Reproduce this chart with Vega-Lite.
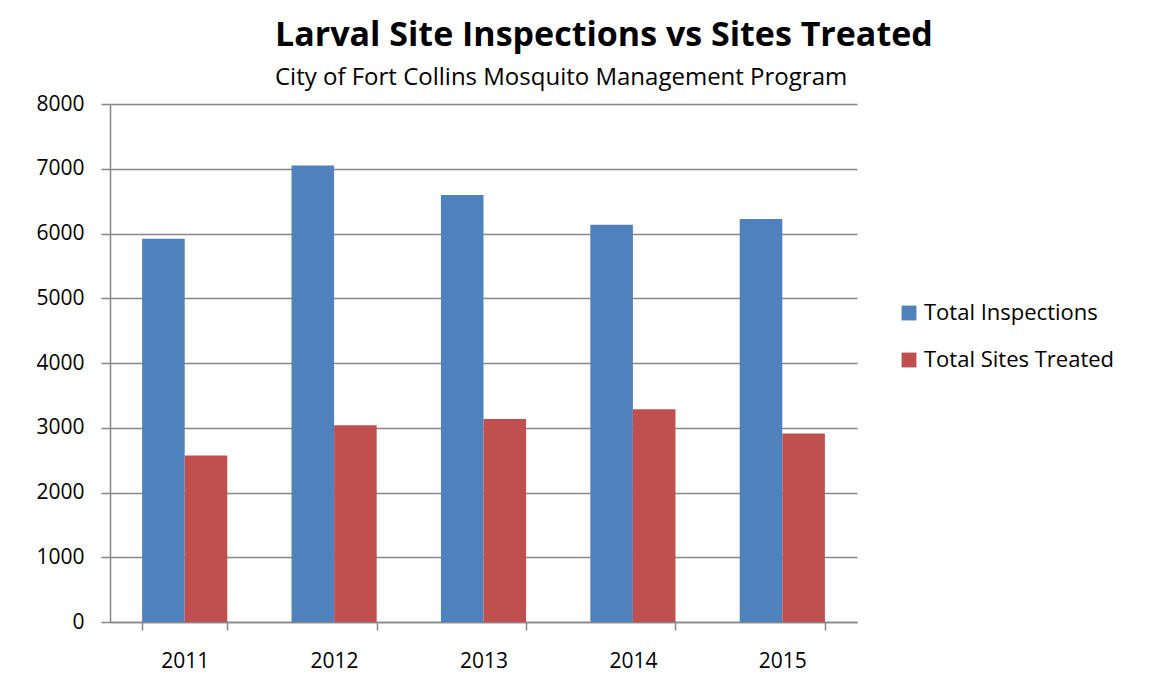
{
  "$schema": "https://vega.github.io/schema/vega-lite/v6.json",
  "width": 747,
  "height": 518,
  "padding": {"left": 35, "top": 19, "right": 5, "bottom": 5},
  "background": "white",
  "title": {
    "text": "Larval Site Inspections vs Sites Treated",
    "subtitle": "City of Fort Collins Mosquito Management Program",
    "anchor": "start",
    "frame": "group",
    "dx": 165,
    "font": "Open Sans",
    "fontSize": 34,
    "fontWeight": "bold",
    "color": "black",
    "subtitleFont": "Open Sans",
    "subtitleFontSize": 24,
    "subtitleColor": "black",
    "subtitlePadding": 13,
    "offset": 3
  },
  "data": {
    "values": [
      {"year": "2011", "series": "Total Inspections", "value": 5920},
      {"year": "2011", "series": "Total Sites Treated", "value": 2570},
      {"year": "2012", "series": "Total Inspections", "value": 7050},
      {"year": "2012", "series": "Total Sites Treated", "value": 3040},
      {"year": "2013", "series": "Total Inspections", "value": 6595},
      {"year": "2013", "series": "Total Sites Treated", "value": 3135},
      {"year": "2014", "series": "Total Inspections", "value": 6135},
      {"year": "2014", "series": "Total Sites Treated", "value": 3285},
      {"year": "2015", "series": "Total Inspections", "value": 6225},
      {"year": "2015", "series": "Total Sites Treated", "value": 2910}
    ]
  },
  "mark": {"type": "bar"},
  "encoding": {
    "x": {
      "field": "year",
      "type": "nominal",
      "scale": {"paddingInner": 0.43, "paddingOuter": 0.215},
      "axis": {
        "title": null,
        "labelAngle": 0,
        "tickBand": "extent",
        "domainColor": "#878787",
        "domainWidth": 1.5,
        "tickColor": "#878787",
        "tickWidth": 1.5,
        "tickSize": 8,
        "labelPadding": 20,
        "labelFont": "Open Sans",
        "labelFontSize": 21,
        "labelColor": "black",
        "grid": false
      }
    },
    "xOffset": {
      "field": "series",
      "sort": ["Total Inspections", "Total Sites Treated"],
      "scale": {"paddingInner": 0, "paddingOuter": 0}
    },
    "y": {
      "field": "value",
      "type": "quantitative",
      "scale": {"domain": [0, 8000], "nice": false},
      "axis": {
        "title": null,
        "values": [0, 1000, 2000, 3000, 4000, 5000, 6000, 7000, 8000],
        "format": "d",
        "grid": true,
        "gridColor": "#878787",
        "gridWidth": 1.5,
        "domainColor": "#878787",
        "domainWidth": 1.5,
        "tickColor": "#878787",
        "tickWidth": 1.5,
        "tickSize": 9,
        "labelPadding": 17,
        "labelFont": "Open Sans",
        "labelFontSize": 21,
        "labelColor": "black"
      }
    },
    "color": {
      "field": "series",
      "type": "nominal",
      "scale": {
        "domain": ["Total Inspections", "Total Sites Treated"],
        "range": ["#4F81BD", "#C0504D"]
      },
      "legend": {
        "title": null,
        "orient": "none",
        "legendX": 788,
        "legendY": 198,
        "symbolType": "square",
        "symbolSize": 220,
        "symbolStrokeWidth": 0,
        "labelFont": "Open Sans",
        "labelFontSize": 22,
        "labelColor": "black",
        "labelOffset": 4,
        "labelLimit": 0,
        "rowPadding": 25
      }
    }
  },
  "config": {"view": {"stroke": null}}
}
